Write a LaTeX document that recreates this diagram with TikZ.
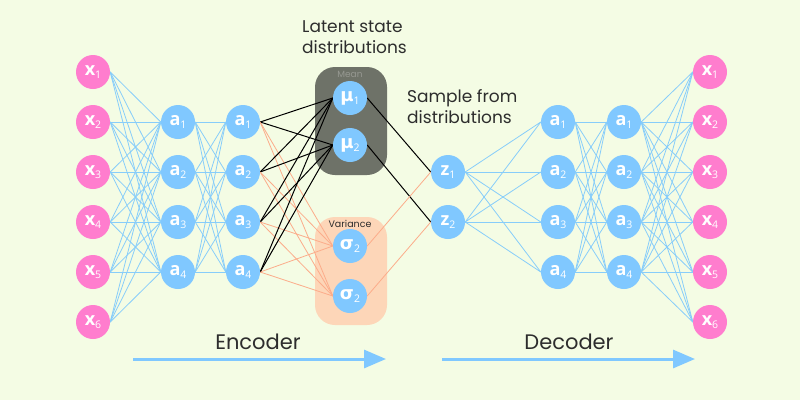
\documentclass[tikz,border=0pt]{standalone}
\usepackage{fontspec}
\setmainfont{Poppins}
\newfontfamily\greekfont{DejaVu Sans}
\newfontfamily\labfont{Open Sans}
\usetikzlibrary{arrows.meta}
\definecolor{bgc}{RGB}{244,252,228}
\definecolor{pinkc}{RGB}{255,125,206}
\definecolor{bluec}{RGB}{128,200,255}
\definecolor{linec}{RGB}{135,205,250}
\definecolor{orangec}{RGB}{252,172,138}
\definecolor{meanc}{RGB}{110,114,104}
\definecolor{varc}{RGB}{253,214,184}
\definecolor{txtc}{RGB}{45,45,45}
\definecolor{meantxt}{RGB}{150,152,145}
\newcommand{\sbs}[1]{\raisebox{-0.35ex}{\mdseries\fontsize{10.5}{10.5}\selectfont #1}}
\pgfdeclarelayer{boxes}
\pgfdeclarelayer{edges}
\pgfsetlayers{boxes,edges,main}
\begin{document}
\begin{tikzpicture}[x=1pt,y=-1pt,
  neuron/.style={circle, minimum size=34pt, inner sep=0pt, text=white, font=\labfont\fontsize{18}{18}\selectfont\bfseries},
  inp/.style={neuron, fill=pinkc},
  hid/.style={neuron, fill=bluec},
  bl/.style={draw=linec, line width=0.8pt},
  blk/.style={draw=black, line width=1pt},
  org/.style={draw=orangec, line width=0.8pt},
  heading/.style={text=txtc, font=\fontsize{17}{21}\selectfont, align=left, inner sep=0pt},
  bigarrow/.style={draw=bluec, line width=3pt, -{Triangle[length=22pt,width=18pt]}}]
\useasboundingbox (0,0) rectangle (800,400);

% nodes
\foreach \i/\y in {1/72,2/122,3/172,4/222,5/272,6/322}{
  \node[inp] (x\i) at (93,\y) {x\sbs{\i}};
  \node[inp] (o\i) at (710,\y) {x\sbs{\i}};
}
\foreach \i/\y in {1/122,2/172,3/222,4/272}{
  \node[hid] (e\i) at (178,\y) {a\sbs{\i}};
  \node[hid] (f\i) at (243,\y) {a\sbs{\i}};
  \node[hid] (d\i) at (558,\y) {a\sbs{\i}};
  \node[hid] (g\i) at (624,\y) {a\sbs{\i}};
}
\node[hid] (m1) at (350,98) {{\greekfont\bfseries μ}\sbs{1}};
\node[hid] (m2) at (350,145) {{\greekfont\bfseries μ}\sbs{2}};
\node[hid] (s1) at (350,246) {{\greekfont σ}\sbs{2}};
\node[hid] (s2) at (350,296) {{\greekfont σ}\sbs{2}};
\node[hid] (z1) at (448,172) {z\sbs{1}};
\node[hid] (z2) at (448,222) {z\sbs{2}};

% background and boxes
\begin{pgfonlayer}{boxes}
  \fill[bgc] (0,0) rectangle (800,400);
  \fill[meanc, rounded corners=20pt] (315,67) rectangle (387,175);
  \fill[varc, rounded corners=20pt] (315,217) rectangle (387,325);
\end{pgfonlayer}
\node[text=meantxt, font=\fontsize{9}{9}\selectfont, inner sep=0pt] (meanlbl) at (350,74) {Mean};
\node[text=txtc, font=\fontsize{9.5}{9.5}\selectfont, inner sep=0pt] (varlbl) at (350,224) {Variance};

% edges
\begin{pgfonlayer}{edges}
  \foreach \i in {1,...,6}{
    \foreach \j in {1,...,4}{
      \draw[bl] (x\i.east) -- (e\j.west);
      \draw[bl] (g\j.east) -- (o\i.west);
    }
  }
  \foreach \i in {1,...,4}{
    \foreach \j in {1,...,4}{
      \draw[bl] (e\i.east) -- (f\j.west);
      \draw[bl] (d\i.east) -- (g\j.west);
    }
    \foreach \j in {1,2}{
      \draw[blk] (f\i.east) -- (m\j.west);
      \draw[org] (f\i.east) -- (s\j.west);
      \draw[bl] (z\j.east) -- (d\i.west);
    }
  }
  \draw[blk] (m1.east) -- (z1.west);
  \draw[blk] (m2.east) -- (z2.west);
  \draw[org] (s1.east) -- (z1.west);
  \draw[org] (s2.east) -- (z2.west);
\end{pgfonlayer}

% texts
\node[heading, anchor=base west] (lat) at (302,53) {Latent state\\distributions};
\node[heading, anchor=base west] (samp) at (407,123) {Sample from\\distributions};
\node[text=txtc, font=\fontsize{21}{21}\selectfont, inner sep=0pt, anchor=base] (enc) at (258,349) {Encoder};
\node[text=txtc, font=\fontsize{21}{21}\selectfont, inner sep=0pt, anchor=base] (dec) at (569,349) {Decoder};
\coordinate (ea) at (133,359);
\coordinate (eb) at (386,359);
\coordinate (da) at (442,359);
\coordinate (db) at (695,359);
\draw[bigarrow] (ea) -- (eb);
\draw[bigarrow] (da) -- (db);
\end{tikzpicture}
\end{document}
